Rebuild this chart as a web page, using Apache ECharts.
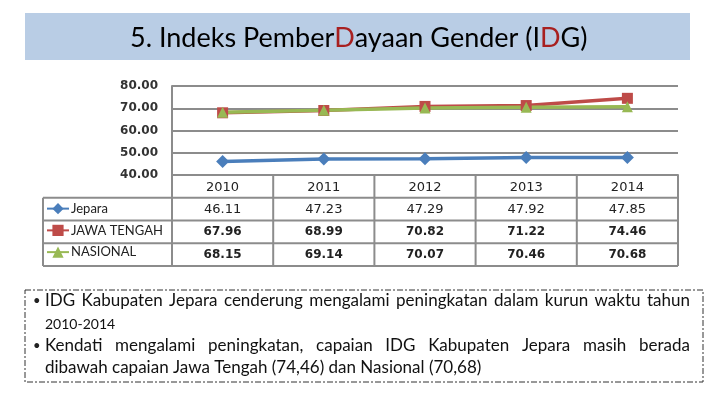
<!DOCTYPE html>
<html>
<head>
<meta charset="utf-8">
<script src="https://cdn.jsdelivr.net/npm/echarts@6/dist/echarts.min.js"></script>
<style>
  html, body { margin: 0; padding: 0; background: #fff; }
  #main { width: 720px; height: 405px; }
</style>
</head>
<body>
<div id="main"></div>
<script>
// data
const years = ['2010', '2011', '2012', '2013', '2014'];
const seriesNames = ['Jepara', 'JAWA TENGAH', 'NASIONAL'];
const jepara = [46.11, 47.23, 47.29, 47.92, 47.85];
const jawaTengah = [67.96, 68.99, 70.82, 71.22, 74.46];
const nasional = [68.15, 69.14, 70.07, 70.46, 70.68];
const colors = ['#4A7EBB', '#BE4B48', '#98B954'];
const symbols = ['diamond', 'rect', 'triangle'];
const notes = [
  { bullet: true, text: 'IDG Kabupaten Jepara cenderung mengalami peningkatan dalam kurun waktu tahun', justify: true },
  { bullet: false, text: '2010-2014', justify: false, small: true },
  { bullet: true, text: 'Kendati mengalami peningkatan, capaian IDG Kabupaten Jepara masih berada', justify: true },
  { bullet: false, text: 'dibawah capaian Jawa Tengah (74,46) dan Nasional (70,68)', justify: false }
];

const chart = echarts.init(document.getElementById('main'));
const allData = [jepara, jawaTengah, nasional];
const gridLine = '#8C8C8C';
const numFont = 'DejaVu Sans';
const textFont = 'Lato';
const rowH = 22.75;

const option = {
  backgroundColor: '#fff',
  animation: false,
  color: colors,
  grid: { left: 172, right: 42, top: 86, bottom: 230 },
  legend: {
    orient: 'vertical',
    left: 46,
    top: 175 + rowH + (rowH - 14) / 2,
    padding: 0,
    itemWidth: 22,
    itemHeight: 14,
    itemGap: rowH - 14,
    textStyle: { fontFamily: textFont, fontSize: 13, color: '#222', padding: [0, 0, 0, -3] },
    data: seriesNames
  },
  xAxis: {
    type: 'category',
    data: years,
    axisLine: { lineStyle: { color: gridLine, width: 2 } },
    axisTick: { show: false },
    axisLabel: { fontFamily: numFont, fontSize: 13, color: '#222', margin: 6 }
  },
  yAxis: {
    type: 'value',
    min: 40,
    max: 80,
    interval: 10,
    axisLine: { show: true, lineStyle: { color: gridLine, width: 2 } },
    axisTick: { show: false },
    splitLine: { lineStyle: { color: gridLine, width: 2 } },
    axisLabel: {
      fontFamily: numFont, fontSize: 12, fontWeight: 'bold', color: '#333', margin: 14,
      formatter: v => v.toFixed(2)
    }
  },
  series: seriesNames.map((name, i) => ({
    name: name,
    type: 'line',
    data: allData[i],
    symbol: symbols[i],
    symbolSize: i === 0 ? 13 : 11,
    lineStyle: { width: 3.5 },
    itemStyle: { color: colors[i] }
  }))
};
chart.setOption(option);

// table under the plot, built from the axis positions
const cx = years.map((y, i) => chart.convertToPixel({ xAxisIndex: 0 }, i));
const band = cx[1] - cx[0];
const x0 = cx[0] - band / 2;
const x1 = cx[cx.length - 1] + band / 2;
const yTop = chart.convertToPixel({ yAxisIndex: 0 }, 40);
const tableLeft = 43;
const g = [];
const line = (a, b, c, d) => g.push({
  type: 'line', shape: { x1: a, y1: b, x2: c, y2: d },
  style: { stroke: gridLine, lineWidth: 2 }, silent: true
});
for (let r = 1; r <= 4; r++) line(tableLeft, yTop + r * rowH, x1, yTop + r * rowH);
line(tableLeft, yTop + rowH, tableLeft, yTop + 4 * rowH);
for (let c = 0; c <= years.length; c++) line(x0 + c * band, yTop, x0 + c * band, yTop + 4 * rowH);
allData.forEach((arr, r) => {
  arr.forEach((v, i) => {
    g.push({
      type: 'text', x: cx[i], y: yTop + (r + 1.5) * rowH,
      style: {
        text: v.toFixed(2), font: (r > 0 ? 'bold 12px ' : '13px ') + numFont,
        fill: '#222', align: 'center', verticalAlign: 'middle'
      }
    });
  });
});

// title banner
g.push({ type: 'rect', shape: { x: 25, y: 13, width: 665, height: 47 }, style: { fill: '#B9CDE5' }, z: -1 });
g.push({
  type: 'text', x: 130, y: 38,
  style: {
    text: '{a|5. Indeks Pember}{r|D}{a|ayaan Gender (I}{r|D}{a|G)}',
    verticalAlign: 'middle',
    rich: {
      a: { fontFamily: textFont, fontSize: 27, fill: '#000' },
      r: { fontFamily: textFont, fontSize: 27, fill: '#A82020' }
    }
  }
});

// note box
g.push({
  type: 'rect', shape: { x: 25, y: 290, width: 678, height: 92 },
  style: { fill: 'none', stroke: '#333', lineWidth: 1, lineDash: [6, 2, 2, 2] }
});
const ctx = document.createElement('canvas').getContext('2d');
const noteLeft = 45, noteRight = 690;
const lineYs = [301, 324, 346, 368];
notes.forEach((n, k) => {
  const font = (n.small ? '14px ' : '17px ') + textFont;
  const y = lineYs[k];
  if (n.bullet) {
    g.push({ type: 'text', x: 33, y: y, style: { text: '•', font: '13px ' + textFont, fill: '#222', verticalAlign: 'middle' } });
  }
  if (!n.justify) {
    g.push({ type: 'text', x: noteLeft, y: y, style: { text: n.text, font: font, fill: '#111', verticalAlign: 'middle' } });
    return;
  }
  ctx.font = font;
  const words = n.text.split(' ');
  const widths = words.map(w => ctx.measureText(w).width);
  const total = widths.reduce((a, b) => a + b, 0);
  const gap = (noteRight - noteLeft - total) / (words.length - 1);
  let x = noteLeft;
  words.forEach((w, i) => {
    g.push({ type: 'text', x: x, y: y, style: { text: w, font: font, fill: '#111', verticalAlign: 'middle' } });
    x += widths[i] + gap;
  });
});

chart.setOption({ graphic: g });
</script>
</body>
</html>
